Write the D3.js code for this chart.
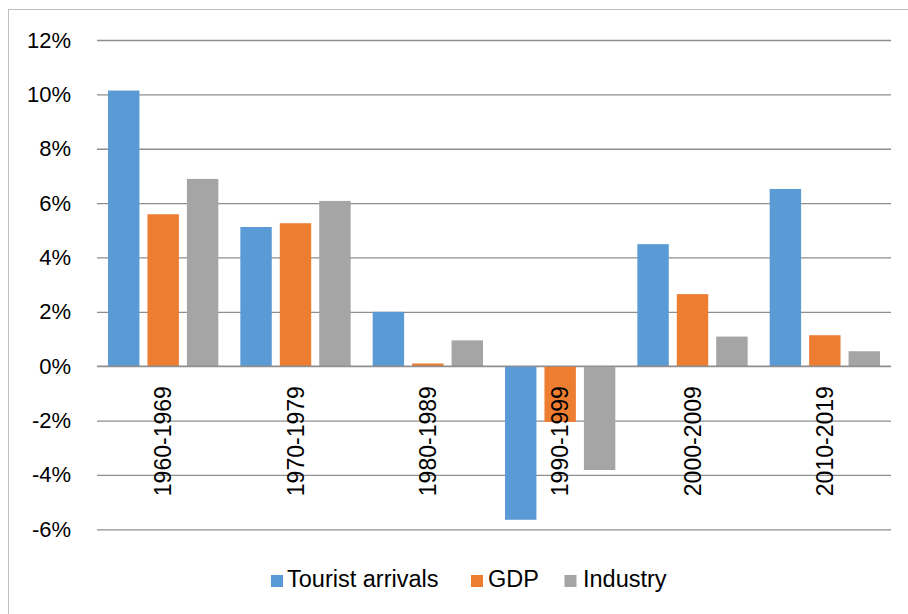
<!DOCTYPE html>
<html>
<head>
<meta charset="utf-8">
<script src="https://cdn.jsdelivr.net/npm/d3@7/dist/d3.min.js"></script>
<style>
  html, body { margin: 0; padding: 0; background: #fff; }
  svg { display: block; }
  text { font-family: "Liberation Sans", Arial, sans-serif; fill: #000; }
</style>
</head>
<body>
<svg id="chart" width="908" height="614"></svg>
<script>
// Average annual growth by decade
const decades = ["1960-1969", "1970-1979", "1980-1989", "1990-1999", "2000-2009", "2010-2019"];
const seriesNames = ["Tourist arrivals", "GDP", "Industry"];
const touristArrivals = [10.14, 5.12, 2.0, -5.65, 4.49, 6.52];
const gdp = [5.59, 5.26, 0.1, -2.05, 2.65, 1.14];
const industry = [6.89, 6.08, 0.95, -3.82, 1.09, 0.55];
const yTicks = [-6, -4, -2, 0, 2, 4, 6, 8, 10, 12];
const colors = ["#5B9BD5", "#ED7D31", "#A5A5A5"];

const seriesValues = [touristArrivals, gdp, industry];
const rows = decades.map((d, i) => ({
  decade: d,
  values: seriesNames.map((s, k) => ({ series: s, value: seriesValues[k][i] }))
}));

const svg = d3.select("#chart");
const plotLeft = 97, plotRight = 891, plotTop = 40, plotBottom = 529.3;

// Chart frame
svg.append("rect")
  .attr("x", 8.5).attr("y", 9.5)
  .attr("width", 920).attr("height", 620)
  .attr("fill", "none").attr("stroke", "#bfbfbf").attr("stroke-width", 1);

const x0 = d3.scaleBand().domain(decades).range([plotLeft, plotRight]).paddingInner(0).paddingOuter(0);
const bw = x0.bandwidth();
const x1 = d3.scaleBand().domain(seriesNames)
  .range([bw * 0.0832, bw * 0.9168]).paddingInner(0.2036).paddingOuter(0);
const y = d3.scaleLinear().domain([-6, 12]).range([plotBottom, plotTop]);
const color = d3.scaleOrdinal().domain(seriesNames).range(colors);

// Gridlines
const grid = svg.append("g")
  .attr("transform", `translate(${plotLeft},0)`)
  .call(d3.axisLeft(y).tickValues(yTicks).tickSize(-(plotRight - plotLeft)).tickFormat(""));
grid.select(".domain").remove();
grid.selectAll(".tick line").attr("stroke", "#8e8e8e").attr("stroke-width", 1.3);

// Bars
const groups = svg.append("g").selectAll("g")
  .data(rows).join("g")
  .attr("transform", d => `translate(${x0(d.decade)},0)`);
groups.selectAll("rect")
  .data(d => d.values).join("rect")
  .attr("x", d => x1(d.series))
  .attr("width", x1.bandwidth())
  .attr("y", d => y(Math.max(0, d.value)))
  .attr("height", d => Math.abs(y(d.value) - y(0)))
  .attr("fill", d => color(d.series));

// Zero line
svg.append("line")
  .attr("x1", plotLeft).attr("x2", plotRight)
  .attr("y1", y(0)).attr("y2", y(0))
  .attr("stroke", "#8e8e8e").attr("stroke-width", 1.3);

// Y tick labels
const yAxis = svg.append("g")
  .attr("transform", `translate(71,0)`)
  .call(d3.axisLeft(y).tickValues(yTicks).tickSize(0).tickPadding(0).tickFormat(d => d + "%"));
yAxis.select(".domain").remove();
yAxis.selectAll("text")
  .style("font-family", "'Liberation Sans', Arial, sans-serif")
  .style("font-size", "22px").attr("fill", "#000");

// Category labels, rotated, just below the zero line
svg.append("g").selectAll("text")
  .data(decades).join("text")
  .attr("transform", d => `translate(${x0(d) + bw / 2},${y(0) + 20}) rotate(-90)`)
  .attr("text-anchor", "end")
  .attr("dy", "0.35em")
  .style("font-size", "23px")
  .text(d => d);

// Legend
const legendItems = [
  { name: seriesNames[0], sx: 271, tx: 287 },
  { name: seriesNames[1], sx: 471, tx: 488 },
  { name: seriesNames[2], sx: 564.5, tx: 583 }
];
const legend = svg.append("g");
legend.selectAll("rect")
  .data(legendItems).join("rect")
  .attr("x", d => d.sx).attr("y", 575)
  .attr("width", 12).attr("height", 12)
  .attr("fill", d => color(d.name));
legend.selectAll("text")
  .data(legendItems).join("text")
  .attr("x", d => d.tx).attr("y", 587)
  .style("font-size", "23.5px")
  .text(d => d.name);
</script>
</body>
</html>
